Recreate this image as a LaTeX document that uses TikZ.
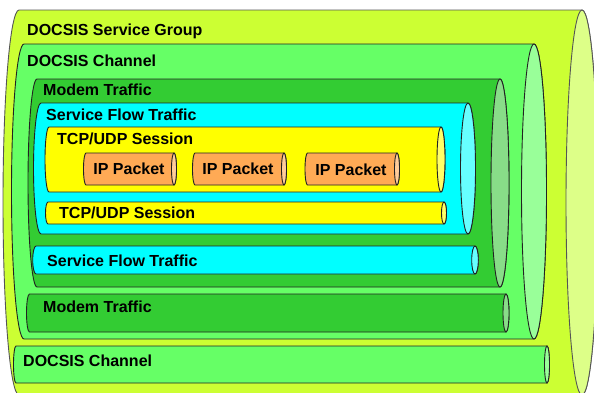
\documentclass[tikz,border=0pt]{standalone}
\usepackage{fontspec}
\setmainfont{Liberation Sans}
\definecolor{sgfill}{HTML}{CCFF33}
\definecolor{sgend}{HTML}{DDFF88}
\definecolor{chfill}{HTML}{66FF66}
\definecolor{chend}{HTML}{99FF99}
\definecolor{mdfill}{HTML}{33CC33}
\definecolor{mdend}{HTML}{88DD88}
\definecolor{sffill}{HTML}{00FFFF}
\definecolor{sfend}{HTML}{66FFFF}
\definecolor{tcfill}{HTML}{FFFF00}
\definecolor{tcend}{HTML}{FFFF66}
\definecolor{ipfill}{HTML}{FFAA55}
\definecolor{ipend}{HTML}{FFCC99}
\definecolor{lineclr}{HTML}{222222}
\definecolor{outerline}{HTML}{555555}
\newcommand{\drawcyl}[8]{%
  \pgfmathsetmacro\cylry{(#4-#3)/2}%
  \pgfmathsetmacro\cylyc{(#4+#3)/2}%
  \draw[#8, fill=#6] (#1,#3) -- (#2,#3)
    arc[start angle=270, end angle=450, x radius=#5, y radius=\cylry]
    -- (#1,#4)
    arc[start angle=90, end angle=270, x radius=#5, y radius=\cylry] -- cycle;
  \draw[#8, fill=#7] (#2,\cylyc) ellipse[x radius=#5, y radius=\cylry];
}
\tikzset{
  cylline/.style={draw=lineclr, line width=0.9pt},
  outline/.style={draw=outerline, line width=0.9pt},
  lbl/.style={anchor=base west, inner sep=0pt, font=\bfseries\fontsize{16}{19}\selectfont, text=black},
  iplbl/.style={anchor=base, inner sep=0pt, font=\bfseries\fontsize{16}{19}\selectfont, text=black}
}
\begin{document}
\begin{tikzpicture}[x=1pt, y=-1pt]
\useasboundingbox (0,0) rectangle (594,392);
\fill[white] (0,0) rectangle (594,392);
\clip (0,0) rectangle (594,392);
% DOCSIS Service Group
\drawcyl{19}{582}{10}{395}{16}{sgfill}{sgend}{outline}
% DOCSIS Channel (upper)
\drawcyl{24}{534}{44}{339}{12.5}{chfill}{chend}{cylline}
% Modem Traffic (upper)
\drawcyl{37}{500}{79}{287}{9}{mdfill}{mdend}{cylline}
% Service Flow Traffic (upper)
\drawcyl{41}{468}{103}{234}{7.5}{sffill}{sfend}{cylline}
% TCP/UDP Session (upper)
\drawcyl{49}{441}{127}{192}{4}{tcfill}{tcend}{cylline}
% IP packets
\drawcyl{86}{174}{153}{185}{2.5}{ipfill}{ipend}{cylline}
\drawcyl{195}{284}{153}{185}{2.5}{ipfill}{ipend}{cylline}
\drawcyl{307.5}{397}{153}{185}{2.5}{ipfill}{ipend}{cylline}
% TCP/UDP Session (lower)
\drawcyl{48}{444}{202}{224}{2.5}{tcfill}{tcend}{cylline}
% Service Flow Traffic (lower)
\drawcyl{36}{475}{246}{274}{3.3}{sffill}{sfend}{cylline}
% Modem Traffic (lower)
\drawcyl{29.5}{506}{294}{332}{3}{mdfill}{mdend}{cylline}
% DOCSIS Channel (lower)
\drawcyl{16}{547}{346}{383}{2.5}{chfill}{chend}{cylline}
% labels
\node[lbl] (sg) at (27,35.5) {DOCSIS Service Group};
\node[lbl] (ch1) at (27,66.5) {DOCSIS Channel};
\node[lbl] (md1) at (43,95.5) {Modem Traffic};
\node[lbl] (sf1) at (46,120.5) {Service Flow Traffic};
\node[lbl] (tc1) at (57,144.5) {TCP/UDP Session};
\node[iplbl] (ip1) at (129,174.5) {IP Packet};
\node[iplbl] (ip2) at (238,174.5) {IP Packet};
\node[iplbl] (ip3) at (351,175) {IP Packet};
\node[lbl] (tc2) at (59,218.5) {TCP/UDP Session};
\node[lbl] (sf2) at (47,266.5) {Service Flow Traffic};
\node[lbl] (md2) at (43,312.5) {Modem Traffic};
\node[lbl] (ch2) at (23,366.5) {DOCSIS Channel};
\end{tikzpicture}
\end{document}
